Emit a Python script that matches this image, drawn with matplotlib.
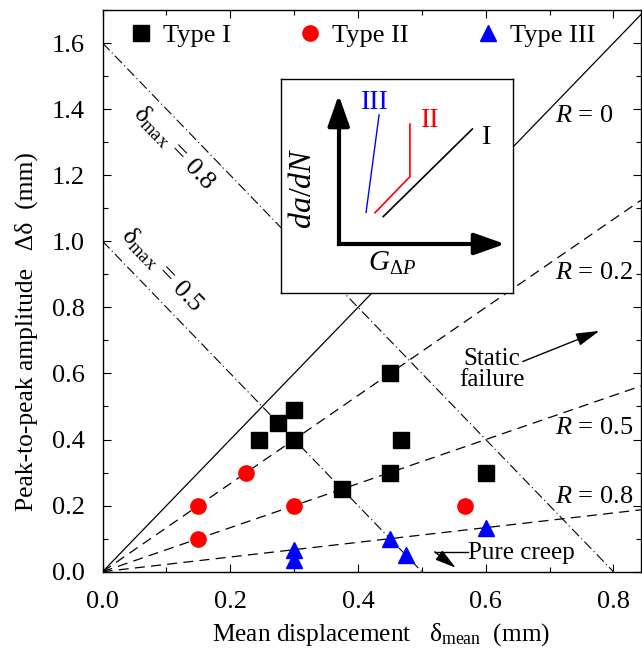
import numpy as np
import matplotlib
matplotlib.use('Agg')
import matplotlib.pyplot as plt

plt.rcParams['font.family'] = ['Liberation Serif', 'DejaVu Serif']
plt.rcParams['mathtext.fontset'] = 'custom'
plt.rcParams['mathtext.rm'] = 'Liberation Serif'
plt.rcParams['mathtext.it'] = 'Liberation Serif:italic'

# measured points (mean displacement, peak-to-peak amplitude), mm
type1_x = [0.245, 0.275, 0.30, 0.30, 0.375, 0.45, 0.45, 0.467, 0.60]
type1_y = [0.40, 0.45, 0.49, 0.40, 0.25, 0.60, 0.30, 0.40, 0.30]
type2_x = [0.15, 0.15, 0.225, 0.30, 0.5675]
type2_y = [0.10, 0.20, 0.30, 0.20, 0.20]
type3_x = [0.30, 0.30, 0.45, 0.475, 0.60]
type3_y = [0.035, 0.067, 0.10, 0.05, 0.133]

R_values = [0, 0.2, 0.5, 0.8]
dmax_values = [0.8, 0.5]

# schematic da/dN curves for the inset (inset units 0..1)
sketch_I_x = [0.442, 0.826]
sketch_I_y = [0.356, 0.766]
sketch_II_x = [0.406, 0.557, 0.557]
sketch_II_y = [0.374, 0.543, 0.789]
sketch_III_x = [0.368, 0.424]
sketch_III_y = [0.376, 0.832]

xmax, ymax = 0.843, 1.70

fig = plt.figure(figsize=(6.42, 6.54), dpi=100)
ax = fig.add_axes([102.6/642, 1 - 571.7/654, 538.3/642, 561.7/654])

xs = np.array([0, xmax])
for R in R_values:
    slope = 2 * (1 - R) / (1 + R)
    if R == 0:
        ax.plot(xs, slope * xs, color='k', lw=0.9)
    else:
        ax.plot(xs, slope * xs, color='k', lw=0.9, ls=(0, (8, 5)))
for d in dmax_values:
    ax.plot([0, d], [2 * d, 0], color='k', lw=0.8, ls=(0, (9, 3, 1, 3)))

ax.plot(type1_x, type1_y, 's', color='k', ms=11, ls='none', label='Type I', zorder=5)
ax.plot(type2_x, type2_y, 'o', color='red', ms=11, ls='none', label='Type II', zorder=5)
ax.plot(type3_x, type3_y, '^', color='blue', ms=11, ls='none', label='Type III', zorder=5)

fs = 19
ax.text(0.709, 1.378, '$R$ = 0', fontsize=fs, va='center')
ax.text(0.709, 0.905, '$R$ = 0.2', fontsize=fs, va='center')
ax.text(0.709, 0.435, '$R$ = 0.5', fontsize=fs, va='center')
ax.text(0.709, 0.227, '$R$ = 0.8', fontsize=fs, va='center')

ax.text(0.112, 1.284, 'δ$_{\\rm max}$ = 0.8', fontsize=fs, rotation=-46,
        ha='center', va='center', rotation_mode='anchor')
ax.text(0.093, 0.914, 'δ$_{\\rm max}$ = 0.5', fontsize=fs, rotation=-46,
        ha='center', va='center', rotation_mode='anchor')

ax.text(0.61, 0.613, 'Static\nfailure', fontsize=18, ha='center', va='center',
        linespacing=0.95)
ax.annotate('', xy=(0.782, 0.732), xytext=(0.654, 0.633),
            arrowprops=dict(arrowstyle='-|>,head_length=0.8,head_width=0.22',
                            color='k', lw=1, mutation_scale=18))
ax.text(0.572, 0.058, 'Pure creep', fontsize=18, ha='left', va='center')
ax.plot([0.572, 0.52], [0.06, 0.06], color='k', lw=1)
ax.annotate('', xy=(0.553, 0.012), xytext=(0.52, 0.06),
            arrowprops=dict(arrowstyle='-|>,head_length=0.8,head_width=0.22',
                            color='k', lw=1, mutation_scale=16, shrinkA=0, shrinkB=0))

ax.set_xlim(0, xmax)
ax.set_ylim(0, ymax)
ax.set_xticks(np.arange(0, 0.81, 0.2))
ax.set_xticks(np.arange(0, 0.85, 0.1), minor=True)
ax.set_yticks(np.arange(0, 1.61, 0.2))
ax.set_yticks(np.arange(0, 1.71, 0.1), minor=True)
ax.xaxis.set_major_formatter(matplotlib.ticker.FormatStrFormatter('%.1f'))
ax.yaxis.set_major_formatter(matplotlib.ticker.FormatStrFormatter('%.1f'))
ax.tick_params(which='both', direction='in', top=True, right=True,
               labelsize=fs, width=0.8)
ax.tick_params(which='major', length=5.5)
ax.tick_params(which='minor', length=3.5)
ax.tick_params(axis='x', which='major', pad=14)
ax.tick_params(axis='y', which='major', pad=13)
for sp in ax.spines.values():
    sp.set_linewidth(1.0)

ax.set_xlabel('Mean displacement   δ$_{\\rm mean}$  (mm)', fontsize=18.3,
              labelpad=6, x=0.517)
ax.set_ylabel('Peak-to-peak amplitude   Δδ  (mm)', fontsize=18.4,
              labelpad=10, y=0.4276)

ax.legend(loc='upper left', bbox_to_anchor=(0.047, 0.976), ncol=3,
          frameon=False, fontsize=fs, handlelength=1.0, handletextpad=0.33,
          columnspacing=2.5, borderpad=0, borderaxespad=0, markerscale=1.0)

# inset sketch
ins = fig.add_axes([280.7/642, 1 - 292.7/654, 232/642, 213.7/654])
ins.set_xlim(0, 1)
ins.set_ylim(0, 1)
ins.set_xticks([])
ins.set_yticks([])
for sp in ins.spines.values():
    sp.set_linewidth(1.0)
ins.plot([0.25, 0.25], [0.85, 0.228], color='k', lw=3, solid_capstyle='projecting')
ins.plot([0.25, 0.90], [0.228, 0.228], color='k', lw=3, solid_capstyle='projecting')
head = '-|>,head_length=0.85,head_width=0.3'
ins.annotate('', xy=(0.25, 0.925), xytext=(0.25, 0.80),
             arrowprops=dict(arrowstyle=head, color='k', lw=3, mutation_scale=22,
                             shrinkA=0, shrinkB=0))
ins.annotate('', xy=(0.967, 0.228), xytext=(0.85, 0.228),
             arrowprops=dict(arrowstyle=head, color='k', lw=3, mutation_scale=22,
                             shrinkA=0, shrinkB=0))
ins.plot(sketch_III_x, sketch_III_y, color='blue', lw=1.0)
ins.plot(sketch_II_x, sketch_II_y, color='red', lw=1.2)
ins.plot(sketch_I_x, sketch_I_y, color='k', lw=1.2)
ins.text(0.406, 0.888, 'III', color='blue', fontsize=20, ha='center', va='center')
ins.text(0.644, 0.808, 'II', color='red', fontsize=20, ha='center', va='center')
ins.text(0.888, 0.724, 'I', color='k', fontsize=20, ha='center', va='center')
ins.text(0.098, 0.49, '$da/dN$', fontsize=23, rotation=90, ha='center', va='center')
ins.text(0.478, 0.138, '$G_{\\Delta P}$', fontsize=21, ha='center', va='center')

fig.savefig('out.png', dpi=100)
